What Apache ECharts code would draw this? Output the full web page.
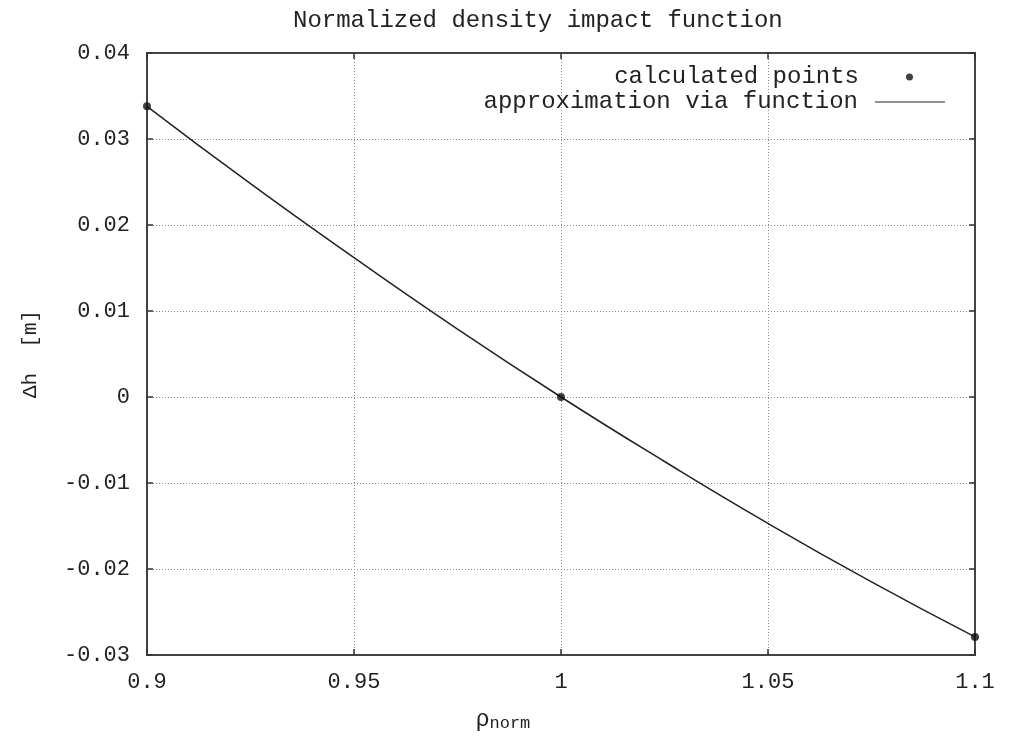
<!DOCTYPE html>
<html>
<head>
<meta charset="utf-8">
<script src="https://cdn.jsdelivr.net/npm/echarts@6/dist/echarts.min.js"></script>
<style>
html, body { margin: 0; padding: 0; background: #fff; }
#main { width: 1017px; height: 737px; }
</style>
</head>
<body>
<div id="main"></div>
<script>
// values
const calcRho = [0.9, 1.0, 1.1];
const calcDh = [0.0338, 0.0, -0.0279];
const fitRho = [0.9, 0.925, 0.95, 0.975, 1.0, 1.025, 1.05, 1.075, 1.1];
const fitDh = [0.0338, 0.0248, 0.0162, 0.0079, 0.0, -0.0075, -0.0147, -0.0215, -0.0279];

const monoFont = '"Liberation Mono", "DejaVu Sans Mono", monospace';
const ink = '#222';

const chart = echarts.init(document.getElementById('main'));

const axisCommon = {
	axisLine: { show: true, onZero: false, lineStyle: { color: '#444', width: 2 } },
	axisTick: { show: true, inside: true, length: 6, lineStyle: { color: '#333', width: 1.5 } }
};
const tickLabel = v => String(+v.toFixed(2));

chart.setOption({
	animation: false,
	backgroundColor: '#fff',
	title: {
		text: 'Normalized density impact function',
		left: 288,
		top: 4,
		textStyle: { fontFamily: monoFont, fontSize: 24, fontWeight: 'normal', color: ink }
	},
	legend: [{
		data: [{ name: 'calculated points', icon: 'circle' }],
		right: 99,
		top: 60,
		align: 'right',
		itemWidth: 7,
		itemHeight: 7,
		textStyle: { fontFamily: monoFont, fontSize: 24, color: ink, padding: [0, 42, 0, 0] }
	}, {
		data: [{ name: 'approximation via function', icon: 'rect' }],
		right: 67,
		top: 85,
		align: 'right',
		itemWidth: 70,
		itemHeight: 1.2,
		textStyle: { fontFamily: monoFont, fontSize: 24, color: ink, padding: [0, 12, 0, 0] }
	}],
	grid: {
		left: 147, right: 42, top: 53, bottom: 82,
		outerBoundsMode: 'none',
		show: true, borderColor: '#444', borderWidth: 2
	},
	xAxis: [{
		type: 'value',
		min: 0.9,
		max: 1.1,
		interval: 0.05,
		name: '{a|ρ}{b|norm}',
		nameLocation: 'middle',
		nameGap: 52,
		nameTextStyle: {
			padding: [0, 116, 0, 0],
			rich: {
				a: { fontFamily: monoFont, fontSize: 23, color: ink },
				b: { fontFamily: monoFont, fontSize: 17, color: ink, verticalAlign: 'bottom', padding: [8, 0, 0, 0] }
			}
		},
		...axisCommon,
		axisLabel: { fontFamily: monoFont, fontSize: 22, color: ink, margin: 16, formatter: tickLabel },
		splitLine: { show: true, lineStyle: { color: '#888', type: [1, 2], width: 1 } }
	}, {
		type: 'value',
		position: 'top',
		min: 0.9,
		max: 1.1,
		interval: 0.05,
		...axisCommon,
		axisLabel: { show: false },
		splitLine: { show: false }
	}],
	yAxis: [{
		type: 'value',
		min: -0.03,
		max: 0.04,
		interval: 0.01,
		name: 'Δh  [m]',
		nameLocation: 'middle',
		nameGap: 106,
		nameRotate: 90,
		nameTextStyle: { fontFamily: monoFont, fontSize: 21, color: ink },
		...axisCommon,
		axisLabel: { fontFamily: monoFont, fontSize: 22, color: ink, margin: 17, formatter: tickLabel },
		splitLine: { show: true, lineStyle: { color: '#888', type: [1, 2], width: 1 } }
	}, {
		type: 'value',
		position: 'right',
		min: -0.03,
		max: 0.04,
		interval: 0.01,
		...axisCommon,
		axisLabel: { show: false },
		splitLine: { show: false }
	}],
	series: [{
		name: 'calculated points',
		type: 'scatter',
		symbol: 'circle',
		symbolSize: 8,
		itemStyle: { color: '#111' },
		data: calcRho.map((r, i) => [r, calcDh[i]]),
		z: 5
	}, {
		name: 'approximation via function',
		type: 'line',
		smooth: true,
		symbol: 'none',
		lineStyle: { color: ink, width: 1.5 },
		itemStyle: { color: ink },
		data: fitRho.map((r, i) => [r, fitDh[i]])
	}]
});
</script>
</body>
</html>
